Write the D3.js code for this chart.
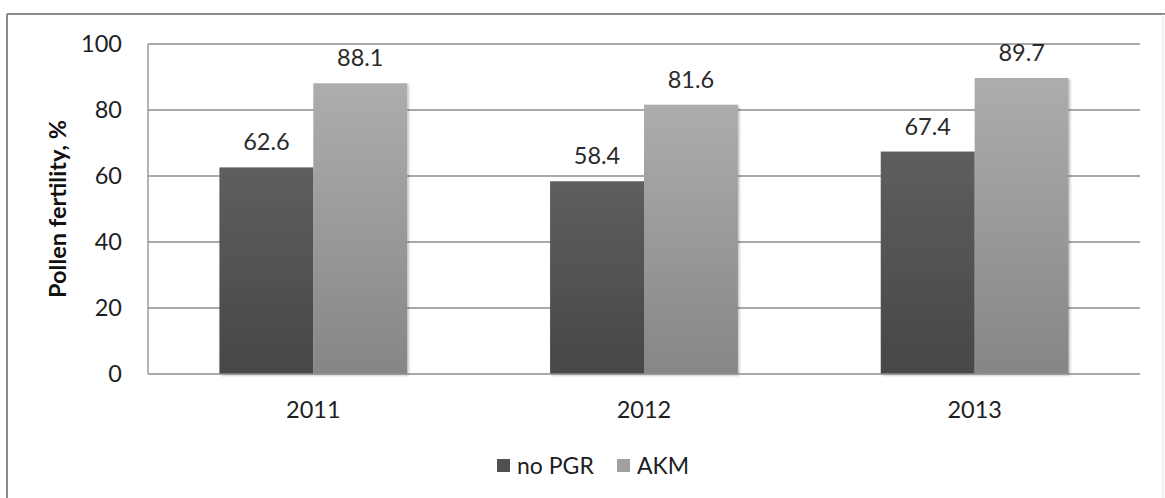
<!DOCTYPE html>
<html>
<head>
<meta charset="utf-8">
<script src="https://cdn.jsdelivr.net/npm/d3@7"></script>
<style>
  html, body { margin: 0; padding: 0; background: #fff; }
  svg { display: block; font-family: Lato, "Open Sans", sans-serif; }
</style>
</head>
<body>
<svg id="chart" width="1165" height="498"></svg>
<script>
// pollen fertility by year, two treatments
const years = ['2011', '2012', '2013'];
const seriesNames = ['no PGR', 'AKM'];
const noPGR = [62.6, 58.4, 67.4];
const akm = [88.1, 81.6, 89.7];
const yTicks = [0, 20, 40, 60, 80, 100];

const W = 1165, H = 498;
const plot = { left: 148, right: 1140, top: 44, bottom: 374 };
const svg = d3.select('#chart');

// gradients that mimic the office-style bar fill
const defs = svg.append('defs');
const grad = (id, top, bottom) => {
    const g = defs.append('linearGradient').attr('id', id)
        .attr('x1', 0).attr('y1', 0).attr('x2', 0).attr('y2', 1);
    g.append('stop').attr('offset', '0%').attr('stop-color', top);
    g.append('stop').attr('offset', '100%').attr('stop-color', bottom);
};
grad('gDark', '#5e5e5e', '#474747');
grad('gLight', '#adadad', '#868686');
defs.append('filter').attr('id', 'shadow')
    .attr('x', '-10%').attr('y', '-10%').attr('width', '130%').attr('height', '130%')
    .append('feDropShadow')
    .attr('dx', 1.5).attr('dy', 1.5).attr('stdDeviation', 1.2)
    .attr('flood-color', '#000').attr('flood-opacity', 0.25);

// chart frame (top and left darker, right faint)
svg.append('line').attr('x1', 7).attr('x2', W).attr('y1', 14).attr('y2', 14)
    .attr('stroke', '#8a8a8a').attr('stroke-width', 2);
svg.append('line').attr('x1', 7).attr('x2', 7).attr('y1', 14).attr('y2', H)
    .attr('stroke', '#8a8a8a').attr('stroke-width', 2);
svg.append('line').attr('x1', 1163).attr('x2', 1163).attr('y1', 14).attr('y2', H)
    .attr('stroke', '#e4e4e4').attr('stroke-width', 1);

const x = d3.scaleBand().domain(years).range([plot.left, plot.right]);
const barW = x.bandwidth() * 0.284;
const y = d3.scaleLinear().domain([0, 100]).range([plot.bottom, plot.top]);

// gridlines
svg.append('g').selectAll('line').data(yTicks.filter((t) => t > 0)).join('line')
    .attr('x1', plot.left).attr('x2', plot.right)
    .attr('y1', (d) => y(d)).attr('y2', (d) => y(d))
    .attr('stroke', '#8c8c8c').attr('stroke-width', 1.3);

// axes lines
svg.append('line').attr('x1', plot.left).attr('x2', plot.left)
    .attr('y1', plot.top).attr('y2', plot.bottom)
    .attr('stroke', '#8c8c8c').attr('stroke-width', 1.3);

// bars
const series = [
    { name: seriesNames[0], values: noPGR, fill: 'url(#gDark)', swatch: '#505050' },
    { name: seriesNames[1], values: akm, fill: 'url(#gLight)', swatch: '#a0a0a0' },
];
series.forEach((s, si) => {
    const cx = (d, i) => x(years[i]) + x.bandwidth() / 2 + (si - 1) * barW;
    svg.append('g').attr('filter', 'url(#shadow)')
        .selectAll('rect').data(s.values).join('rect')
        .attr('x', cx)
        .attr('y', (d) => y(d))
        .attr('width', barW)
        .attr('height', (d) => y(0) - y(d))
        .attr('fill', s.fill);
    svg.append('g').selectAll('text').data(s.values).join('text')
        .attr('x', (d, i) => cx(d, i) + barW / 2)
        .attr('y', (d) => y(d) - 17)
        .attr('text-anchor', 'middle')
        .attr('font-size', 23.5)
        .attr('fill', '#2a2a2a')
        .text((d) => d.toFixed(1));
});

svg.append('line').attr('x1', plot.left).attr('x2', plot.right)
    .attr('y1', plot.bottom).attr('y2', plot.bottom)
    .attr('stroke', '#8c8c8c').attr('stroke-width', 1.3);

// y tick labels
svg.append('g').selectAll('text').data(yTicks).join('text')
    .attr('x', 122).attr('y', (d) => y(d))
    .attr('dy', '0.35em')
    .attr('text-anchor', 'end')
    .attr('font-size', 23.5)
    .attr('fill', '#1e1e1e')
    .text((d) => d);

// x category labels
svg.append('g').selectAll('text').data(years).join('text')
    .attr('x', (d) => x(d) + x.bandwidth() / 2)
    .attr('y', 418)
    .attr('text-anchor', 'middle')
    .attr('font-size', 23.5)
    .attr('fill', '#1e1e1e')
    .text((d) => d);

// y axis title
svg.append('text')
    .attr('transform', `translate(66,${(plot.top + plot.bottom) / 2}) rotate(-90)`)
    .attr('text-anchor', 'middle')
    .attr('font-size', 23.5)
    .attr('font-weight', 'bold')
    .attr('fill', '#111')
    .text('Pollen fertility, %');

// legend
const legendX = [497, 617];
series.forEach((s, i) => {
    const g = svg.append('g').attr('transform', `translate(${legendX[i]},459)`);
    g.append('rect').attr('width', 13).attr('height', 13).attr('fill', s.swatch);
    g.append('text').attr('x', 20).attr('y', 6.5).attr('dy', '0.35em')
        .attr('font-size', 23).attr('fill', '#1e1e1e').text(s.name);
});
</script>
</body>
</html>
